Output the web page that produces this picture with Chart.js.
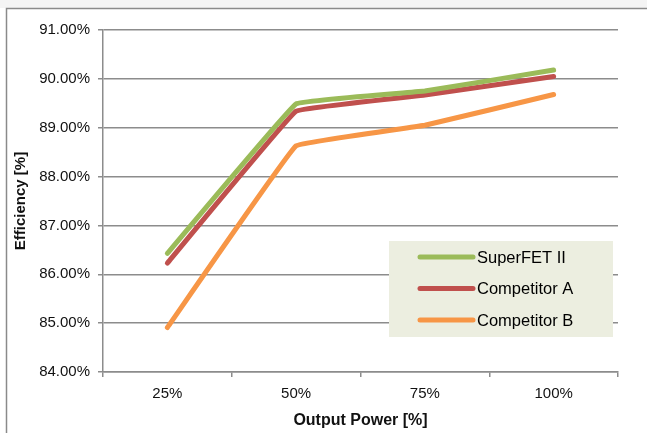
<!DOCTYPE html>
<html>
<head>
<meta charset="utf-8">
<script src="https://cdn.jsdelivr.net/npm/chart.js@4"></script>
<style>
    html, body { margin: 0; padding: 0; background: #ffffff; }
    #wrap { width: 647px; height: 433px; position: relative; }
</style>
</head>
<body>
<div id="wrap"><canvas id="effChart" width="647" height="433"></canvas></div>
<script>
// Efficiency vs output power

const categories = ['25%', '50%', '75%', '100%'];
const superfet = [86.43, 89.49, 89.75, 90.18];
const competitorA = [86.23, 89.34, 89.67, 90.05];
const competitorB = [84.91, 88.63, 89.05, 89.68];
const yTicks = [84, 85, 86, 87, 88, 89, 90, 91];

const gridGray = '#8c8c8c';
const font = 'Liberation Sans, Arial, sans-serif';

// frame + grey strip along the top
const framePlugin = {
    id: 'frame',
    beforeDraw(chart) {
        const c = chart.ctx;
        c.save();
        c.fillStyle = '#f4f4f4';
        c.fillRect(0, 0, chart.width, 8);
        c.fillStyle = '#ffffff';
        c.fillRect(0, 8, chart.width, chart.height - 8);
        c.strokeStyle = '#8a8a8a';
        c.lineWidth = 1.5;
        c.beginPath();
        c.moveTo(6.5, chart.height);
        c.lineTo(6.5, 8.5);
        c.lineTo(chart.width, 8.5);
        c.stroke();
        c.restore();
    }
};

// legend box drawn inside the plot area
const boxLegend = {
    id: 'boxLegend',
    afterDatasetsDraw(chart) {
        const c = chart.ctx;
        const x = 389, y = 241, w = 224, h = 96;
        c.save();
        c.fillStyle = '#eceee0';
        c.fillRect(x, y, w, h);
        c.font = '16.5px ' + font;
        c.textBaseline = 'middle';
        chart.data.datasets.forEach((ds, i) => {
            const ly = y + 16 + i * 31.5;
            c.strokeStyle = ds.borderColor;
            c.lineWidth = 5;
            c.lineCap = 'round';
            c.beginPath();
            c.moveTo(x + 31, ly);
            c.lineTo(x + 84, ly);
            c.stroke();
            c.fillStyle = '#000000';
            c.fillText(ds.label, x + 88, ly + 1);
        });
        c.restore();
    }
};

function makeSet(label, data, color) {
    return {
        label: label,
        data: data,
        borderColor: color,
        backgroundColor: color,
        borderWidth: 5,
        borderCapStyle: 'round',
        borderJoinStyle: 'round',
        pointRadius: 0,
        tension: 0.05,
        fill: false
    };
}

new Chart(document.getElementById('effChart'), {
    type: 'line',
    data: {
        labels: categories,
        datasets: [
            makeSet('SuperFET II', superfet, '#9bbb59'),
            makeSet('Competitor A', competitorA, '#c0504d'),
            makeSet('Competitor B', competitorB, '#f79646')
        ]
    },
    options: {
        responsive: false,
        animation: false,
        layout: { padding: { top: 30, right: 29, left: 0, bottom: 0 } },
        plugins: {
            legend: { display: false },
            tooltip: { enabled: false }
        },
        scales: {
            x: {
                offset: true,
                grid: {
                    offset: true,
                    drawOnChartArea: false,
                    drawTicks: true,
                    tickLength: 5,
                    color: gridGray,
                    lineWidth: 1.5
                },
                border: { color: gridGray, width: 1.5 },
                ticks: { color: '#111', font: { family: font, size: 15 }, padding: 8 },
                title: {
                    display: true,
                    text: 'Output Power [%]',
                    color: '#111',
                    font: { family: font, size: 16, weight: 'bold' },
                    padding: { top: 4, bottom: 3 }
                },
                afterFit(scale) { scale.height = 61; }
            },
            y: {
                min: 84,
                max: 91,
                afterBuildTicks(scale) {
                    scale.ticks = yTicks.map(v => ({ value: v }));
                },
                grid: {
                    color: gridGray,
                    lineWidth: 1.5,
                    tickLength: 5
                },
                border: { color: gridGray, width: 1.5 },
                ticks: {
                    color: '#111',
                    font: { family: font, size: 15 },
                    padding: 8,
                    callback: v => v.toFixed(2) + '%'
                },
                title: {
                    display: true,
                    text: 'Efficiency [%]',
                    color: '#111',
                    font: { family: font, size: 15, weight: 'bold' },
                    padding: { top: 12, bottom: 6 }
                },
                afterFit(scale) { scale.width = 103; }
            }
        }
    },
    plugins: [framePlugin, boxLegend]
});
</script>
</body>
</html>
